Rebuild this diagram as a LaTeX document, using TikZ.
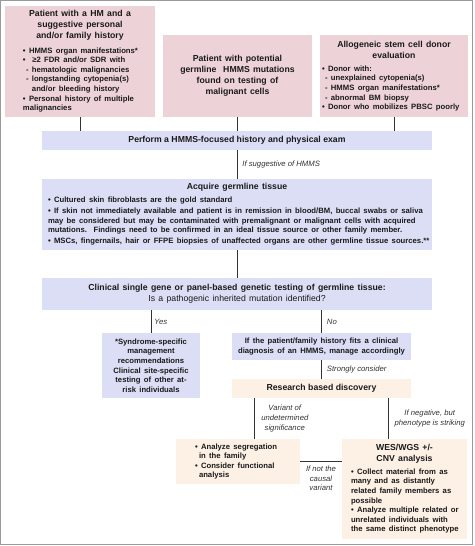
\documentclass[tikz,border=0pt]{standalone}
\usepackage{fontspec}
\setmainfont{Liberation Sans}
\usetikzlibrary{positioning}
\definecolor{pinkc}{HTML}{EDD3D8}
\definecolor{lavc}{HTML}{DCDEF5}
\definecolor{peachc}{HTML}{FDF0E4}
\definecolor{linec}{HTML}{333333}
\definecolor{framec}{HTML}{9A9A9A}
\definecolor{txtc}{HTML}{1A1A1A}
\newcommand\hmTitle{\fontsize{8.7}{11}\selectfont\bfseries}
\newcommand\hmBody{\fontsize{7.7}{9.6}\selectfont\bfseries}
\tikzset{
  hmbox/.style={draw=none, inner sep=0pt, text=txtc, anchor=center},
  pinkbox/.style={hmbox, fill=pinkc},
  lavbox/.style={hmbox, fill=lavc},
  peachbox/.style={hmbox, fill=peachc},
  conn/.style={draw=linec, line width=0.9pt},
  lbl/.style={font=\fontsize{7.7}{9.6}\selectfont\itshape, text=linec, inner sep=0pt, align=center}
}
\begin{document}
\begin{tikzpicture}[x=1pt,y=-1pt]
\useasboundingbox (0,0) rectangle (474,546);
\draw[framec, line width=1.2pt] (0.8,0.8) rectangle (472.5,544.8);

\node[pinkbox, minimum width=150pt, minimum height=111pt, text width=122pt] (b1) at (80,61.5)
 {\centering\hmTitle Patient with a HM and a\\suggestive personal\\and/or family history\par\vspace{4.5pt}
  \raggedright\leftskip=4pt\hmBody • HMMS organ manifestations*\\•\ \ ≥2 FDR and/or SDR with\\\hspace*{3pt}- hematologic malignancies\\\hspace*{3pt}- longstanding cytopenia(s)\\\hspace*{9pt}and/or bleeding history\\• Personal history of multiple\\malignancies\par};

\node[pinkbox, minimum width=149pt, minimum height=82pt, text width=140pt] (b2) at (237.5,76)
 {\centering\hmTitle Patient with potential\\germline\ \ HMMS mutations\\found on testing of\\malignant cells\par};

\node[pinkbox, minimum width=148pt, minimum height=82pt, text width=146pt] (b3) at (394,76)
 {\centering\hmTitle Allogeneic stem cell donor\\evaluation\par\vspace{3.5pt}
  \raggedright\leftskip=1pt\hmBody • Donor with:\\\hspace*{3pt}- unexplained cytopenia(s)\\\hspace*{3pt}- HMMS organ manifestations*\\\hspace*{3pt}- abnormal BM biopsy\\• Donor who mobilizes PBSC poorly\par};

\node[lavbox, minimum width=390pt, minimum height=19pt, font=\hmTitle] (perform) at (237,140.5)
 {Perform a HMMS-focused history and physical exam};

\node[lavbox, minimum width=390pt, minimum height=71pt, text width=390pt] (acquire) at (237,214.5)
 {\centering\hmTitle Acquire germline tissue\par\vspace{3pt}
  \raggedright\leftskip=6pt\hmBody • Cultured skin fibroblasts are the gold standard\par\vspace{1.4pt}
  • If skin not immediately available and patient is in remission in blood/BM, buccal swabs or saliva\\may be considered but may be contaminated with premalignant or malignant cells with acquired\\mutations.\ \ Findings need to be confirmed in an ideal tissue source or other family member.\par\vspace{1.4pt}
  \mbox{• MSCs, fingernails, hair or FFPE biopsies of unaffected organs are other germline tissue sources.**}\par};

\node[lavbox, minimum width=390pt, minimum height=32pt, text width=384pt] (clinical) at (237,294)
 {\centering\hmTitle Clinical single gene or panel-based genetic testing of germline tissue:\\\mdseries Is a pathogenic inherited mutation identified?\par};

\node[lavbox, minimum width=98pt, minimum height=65pt, text width=96pt] (synd) at (151,365.5)
 {\centering\hmBody *Syndrome-specific\\management\\recommendations\\*Clinical site-specific\\testing of other at-\\risk individuals\par};

\node[lavbox, minimum width=179pt, minimum height=27pt, text width=177pt] (ifpat) at (321.5,346.5)
 {\centering\hmBody If the patient/family history fits a clinical\\diagnosis of an HMMS, manage accordingly\par};

\node[peachbox, minimum width=179pt, minimum height=19pt, font=\hmTitle] (research) at (321.5,388.5)
 {Research based discovery};

\node[peachbox, minimum width=124pt, minimum height=45pt, text width=90pt] (analyze) at (238,461.5)
 {\raggedright\leftskip=2pt\hmBody • Analyze segregation\\\hspace*{4pt}in the family\\• Consider functional\\\hspace*{4pt}analysis\par};

\node[peachbox, minimum width=125pt, minimum height=100pt, text width=118pt] (wes) at (404.5,489)
 {\centering\hmTitle WES/WGS +/-\\CNV analysis\par\vspace{3pt}
  \raggedright\leftskip=5.5pt\hmBody • Collect material from as\\many and as distantly\\related family members as\\possible\\• Analyze multiple related or\\unrelated individuals with\\the same distinct phenotype\par};

% connectors
\draw[conn] (b1.south) -- (b1.south |- perform.north);
\draw[conn] (b2.south) -- (b2.south |- perform.north);
\draw[conn] (b3.south) -- (b3.south |- perform.north);
\draw[conn] (perform.south) -- (acquire.north) node[midway, right=5pt, lbl] (l1) {If suggestive of HMMS};
\draw[conn] (acquire.south) -- (clinical.north);
\draw[conn] (clinical.south -| synd.north) -- (synd.north) node[midway, right=3pt, lbl] (l2) {Yes};
\draw[conn] (clinical.south -| ifpat.north) -- (ifpat.north) node[midway, right=5pt, lbl] (l3) {No};
\draw[conn] (ifpat.south) -- (research.north) node[midway, right=5pt, lbl] (l4) {Strongly consider};
\draw[conn] ([xshift=23pt]research.south west) -- ([xshift=23pt]research.south west |- analyze.north)
  node[midway, right=6pt, lbl] (l5) {Variant of\\undetermined\\significance};
\draw[conn] ([xshift=-23pt]research.south east) -- ([xshift=-23pt]research.south east |- wes.north)
  node[midway, right=6pt, lbl] (l6) {If negative, but\\phenotype is striking};
\draw[conn] (analyze.east) -- (analyze.east -| wes.west)
  node[midway, below=4pt, lbl] (l7) {If not the\\causal\\variant};
\end{tikzpicture}
\end{document}
